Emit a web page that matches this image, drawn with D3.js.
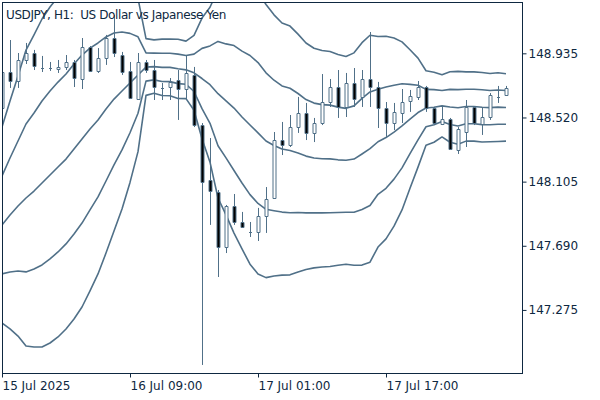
<!DOCTYPE html>
<html><head><meta charset="utf-8">
<script src="https://cdn.jsdelivr.net/npm/d3@7"></script>
<style>body{margin:0;background:#fff;} svg{display:block;font-family:"DejaVu Sans",sans-serif;}</style>
</head><body><svg id="c" width="600" height="400"></svg>
<script>
const title = "USDJPY, H1:  US Dollar vs Japanese Yen";
const open = [148.581,148.814,148.756,148.892,148.937,148.840,148.840,148.834,148.847,148.879,
148.769,148.976,148.821,148.905,149.034,148.924,148.821,148.640,148.879,148.827,
148.711,148.717,148.762,148.704,148.795,148.471,148.116,148.038,147.682,147.947,
147.844,147.780,147.780,147.883,147.999,148.374,148.342,148.458,148.549,148.420,
148.484,148.620,148.717,148.588,148.743,148.653,148.769,148.717,148.581,148.484,
148.549,148.627,148.653,148.717,148.581,148.478,148.510,148.310,148.426,148.588,
148.478,148.523,148.653,148.666];
const high = [148.853,149.021,148.937,149.002,148.957,148.918,148.879,148.892,148.924,148.892,
149.034,148.982,148.969,149.054,149.183,148.944,148.879,148.937,148.892,148.892,
148.743,148.775,148.827,148.924,148.847,148.484,148.387,148.051,147.954,148.025,
147.909,147.844,147.935,148.070,148.426,148.491,148.536,148.653,148.614,148.517,
148.801,148.769,148.827,148.808,148.840,148.827,149.073,148.750,148.620,148.614,
148.704,148.698,148.756,148.724,148.588,148.588,148.517,148.458,148.633,148.588,
148.588,148.678,148.724,148.724];
const low = [148.568,148.711,148.711,148.866,148.827,148.814,148.821,148.808,148.827,148.717,
148.704,148.814,148.808,148.860,148.911,148.795,148.640,148.633,148.808,148.633,
148.633,148.633,148.504,148.633,148.458,146.919,147.825,147.488,147.643,147.825,
147.805,147.747,147.721,147.773,147.993,148.277,148.329,148.420,148.374,148.361,
148.471,148.588,148.517,148.523,148.588,148.588,148.588,148.452,148.394,148.439,
148.484,148.556,148.633,148.556,148.471,148.471,148.310,148.284,148.329,148.471,
148.407,148.504,148.614,148.659];
const close = [148.814,148.756,148.892,148.937,148.853,148.840,148.840,148.847,148.879,148.775,
148.976,148.821,148.905,149.034,148.937,148.814,148.646,148.879,148.827,148.717,
148.711,148.750,148.704,148.808,148.471,148.103,148.045,147.682,147.947,147.844,
147.812,147.780,147.883,147.993,148.374,148.342,148.458,148.549,148.420,148.484,
148.620,148.717,148.588,148.743,148.640,148.769,148.717,148.581,148.484,148.556,
148.620,148.659,148.717,148.581,148.484,148.510,148.316,148.446,148.588,148.484,
148.523,148.666,148.653,148.711];
const bbUpper2 = [148.458,148.627,148.788,148.956,149.054,149.157,149.235,149.299,149.351,149.416,
149.467,149.493,149.500,149.506,149.493,149.455,149.386,149.290,149.030,149.022,
149.027,149.027,149.026,149.014,149.051,149.163,149.233,149.349,149.365,149.390,
149.376,149.370,149.331,149.251,149.184,149.131,149.111,149.059,149.002,148.968,
148.953,148.947,148.928,148.915,148.938,149.004,149.052,149.044,149.045,149.034,
149.009,148.958,148.904,148.822,148.813,148.796,148.816,148.818,148.815,148.815,
148.811,148.804,148.809,148.803];
const bbUpper1 = [148.141,148.258,148.368,148.478,148.549,148.627,148.691,148.749,148.801,148.866,
148.924,148.969,149.002,149.041,149.066,149.073,149.064,149.042,148.938,148.936,
148.935,148.935,148.930,148.921,148.930,148.967,148.983,149.012,148.996,148.985,
148.949,148.921,148.875,148.809,148.761,148.724,148.709,148.675,148.636,148.613,
148.603,148.600,148.587,148.579,148.595,148.644,148.685,148.703,148.717,148.729,
148.738,148.734,148.728,148.702,148.700,148.695,148.702,148.700,148.703,148.703,
148.699,148.694,148.698,148.694];
const bbMiddle = [147.824,147.889,147.947,147.999,148.044,148.096,148.148,148.200,148.251,148.316,
148.381,148.445,148.504,148.575,148.639,148.691,148.743,148.795,148.846,148.849,
148.844,148.844,148.835,148.828,148.809,148.772,148.732,148.674,148.628,148.581,
148.523,148.471,148.420,148.368,148.339,148.316,148.306,148.290,148.270,148.258,
148.253,148.252,148.246,148.243,148.251,148.284,148.318,148.363,148.390,148.425,
148.466,148.510,148.552,148.581,148.586,148.595,148.588,148.583,148.591,148.591,
148.586,148.584,148.587,148.585];
const bbLower1 = [147.508,147.520,147.527,147.521,147.540,147.566,147.605,147.650,147.702,147.766,
147.837,147.922,148.006,148.109,148.213,148.310,148.421,148.547,148.755,148.763,
148.753,148.752,148.739,148.735,148.688,148.577,148.482,148.337,148.259,148.177,
148.096,148.021,147.964,147.926,147.917,147.908,147.904,147.905,147.903,147.903,
147.903,147.904,147.905,147.907,147.907,147.925,147.951,148.023,148.062,148.121,
148.194,148.286,148.375,148.460,148.473,148.494,148.474,148.465,148.479,148.479,
148.474,148.473,148.476,148.476];
const bbLower2 = [147.191,147.152,147.106,147.042,147.035,147.035,147.061,147.100,147.152,147.216,
147.294,147.398,147.508,147.643,147.786,147.928,148.100,148.299,148.663,148.677,
148.662,148.661,148.643,148.642,148.567,148.382,148.231,147.999,147.890,147.772,
147.670,147.571,147.508,147.484,147.495,147.500,147.502,147.520,147.537,147.547,
147.553,147.556,147.564,147.571,147.564,147.565,147.584,147.682,147.735,147.817,
147.922,148.062,148.199,148.340,148.360,148.394,148.360,148.347,148.367,148.367,
148.361,148.363,148.365,148.367];
const yTicks = [147.275, 147.690, 148.105, 148.520, 148.935];
const xTickIndex = [0, 16, 32, 48];
const xTickLabels = ["15 Jul 2025", "16 Jul 09:00", "17 Jul 01:00", "17 Jul 17:00"];

const axisColor = "#0e2841";
const lineColor = "#507088";
const L = 2, R = 522, T = 2, B = 373;

const svg = d3.select("#c");
const x = d3.scaleLinear().domain([0, 65]).range([L, R]);
const y = d3.scaleLinear().domain([146.867, 149.267]).range([B, T]);

svg.append("defs").append("clipPath").attr("id", "clip")
  .append("rect").attr("x", L + 1).attr("y", T + 1).attr("width", R - L - 1).attr("height", B - T - 1);

const plot = svg.append("g").attr("clip-path", "url(#clip)");

// Bollinger lines
const line = d3.line().x((d, i) => x(i)).y(d => y(d));
[bbUpper2, bbUpper1, bbMiddle, bbLower1, bbLower2].forEach(arr => {
  plot.append("path").attr("d", line(arr)).attr("fill", "none")
    .attr("stroke", lineColor).attr("stroke-width", 1.6).attr("stroke-linejoin", "round");
});

// candles
const idx = d3.range(open.length);
const cx = i => Math.round(x(i)) + 0.5;
plot.append("g").selectAll("line").data(idx).join("line")
  .attr("x1", cx).attr("x2", cx)
  .attr("y1", i => y(high[i])).attr("y2", i => y(low[i]))
  .attr("stroke", lineColor).attr("stroke-width", 1);
plot.append("g").selectAll("path").data(idx).join("path")
  .attr("d", i => {
    const x0 = cx(i) - 1.5, x1 = cx(i) + 1.5;
    const y0 = Math.round(y(Math.max(open[i], close[i]))) + 0.5;
    const y1 = Math.round(y(Math.min(open[i], close[i]))) + 0.5;
    return `M${x0},${y0}H${x1}V${y1}H${x0}Z`;
  })
  .attr("fill", i => close[i] < open[i] ? "#000" : "#fff")
  .attr("stroke", lineColor).attr("stroke-width", 1);

// frame
svg.append("rect").attr("x", L + 0.5).attr("y", T + 0.5).attr("width", R - L).attr("height", B - T)
  .attr("fill", "none").attr("stroke", axisColor).attr("stroke-width", 1);

// axes
const yAxis = svg.append("g").attr("transform", `translate(${R + 0.5},0)`)
  .call(d3.axisRight(y).tickValues(yTicks).tickSize(4).tickPadding(2).tickFormat(d3.format(".3f")));
const xAxis = svg.append("g").attr("transform", `translate(0,${B + 0.5})`)
  .call(d3.axisBottom(x).tickValues(xTickIndex).tickSize(4).tickPadding(4).tickFormat((d, i) => xTickLabels[i]));
[yAxis, xAxis].forEach(g => {
  g.select(".domain").remove();
  g.selectAll("line").attr("stroke", axisColor);
  g.selectAll("text").attr("fill", axisColor).style("font-size", "12px").style("font-family", "DejaVu Sans");
});
xAxis.selectAll(".tick").attr("transform", d => `translate(${Math.round(x(d)) + 0.5},0)`);
xAxis.selectAll("text").attr("text-anchor", "start").attr("x", 0);

svg.append("text").attr("x", 6).attr("y", 19).attr("fill", axisColor)
  .style("font-size", "12px").style("letter-spacing", "-0.4px").style("white-space", "pre").text(title);
</script>
</body></html>
